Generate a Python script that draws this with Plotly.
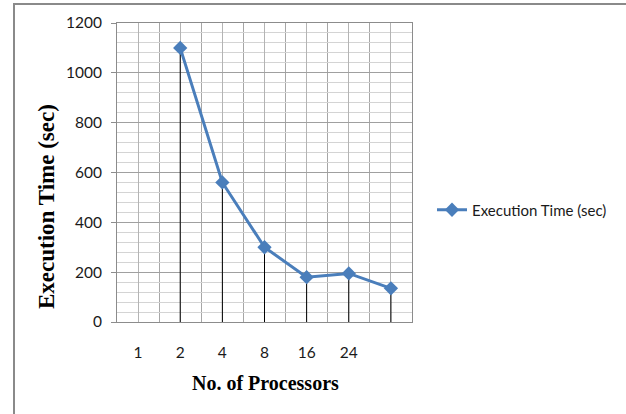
import plotly.graph_objects as go

# Processor counts (category labels) and measured execution times
proc_labels = ["1", "2", "4", "8", "16", "24", ""]
exec_time = [None, 1100, 560, 300, 180, 195, 135]
series_name = "Execution Time (sec)"
y_ticks = [0, 200, 400, 600, 800, 1000, 1200]

positions = list(range(1, len(proc_labels) + 1))

W, H = 626, 414
L, R, T, B = 117, 412, 23, 322  # plot area in pixels


def px_x(px):
    return (px - L) / (R - L)


def px_y(py):
    return (B - py) / (B - T)


BLUE = "#4a7ebb"

# Drop lines from each point down to the category axis
drop_x, drop_y = [], []
for x, v in zip(positions, exec_time):
    if v is None:
        continue
    drop_x += [x, x, None]
    drop_y += [0, v, None]

fig = go.Figure()
fig.add_trace(go.Scatter(
    x=drop_x, y=drop_y, mode="lines",
    line=dict(color="black", width=1),
    hoverinfo="skip", showlegend=False,
))
fig.add_trace(go.Scatter(
    x=positions, y=exec_time, mode="lines+markers",
    name=series_name,
    line=dict(color=BLUE, width=3),
    marker=dict(symbol="diamond", size=11, color=BLUE),
    connectgaps=False,
))

tick_font = dict(family="Lato", size=15.5, color="#1a1a1a")
ytitle_font = dict(family="Liberation Serif", size=23, color="black", weight="bold")
xtitle_font = dict(family="Liberation Serif", size=20, color="black", weight="bold")

fig.update_layout(
    width=W, height=H,
    margin=dict(l=L, r=W - R, t=T, b=H - B, pad=0),
    paper_bgcolor="white", plot_bgcolor="white",
    showlegend=True,
    legend=dict(
        x=px_x(432), y=px_y(210), xanchor="left", yanchor="middle",
        font=dict(family="Lato", size=15, color="#1a1a1a"),
        bgcolor="rgba(0,0,0,0)",
    ),
    xaxis=dict(
        range=[0.5, len(proc_labels) + 0.5],
        tickmode="array", tickvals=positions, ticktext=proc_labels,
        showgrid=True, gridcolor="#b4b4b4", gridwidth=1,
        minor=dict(tick0=0.5, dtick=0.5, showgrid=True,
                   gridcolor="#a6a6a6", gridwidth=1, ticks=""),
        showline=True, linecolor="#8c8c8c", linewidth=1, mirror=True,
        ticks="", zeroline=False,
        tickfont=tick_font, ticklabelstandoff=16,
    ),
    yaxis=dict(
        range=[0, 1200],
        tickmode="array", tickvals=y_ticks,
        showgrid=True, gridcolor="#a0a0a0", gridwidth=1,
        minor=dict(dtick=40, showgrid=True, gridcolor="#d4d4d4",
                   gridwidth=1, ticks=""),
        showline=True, linecolor="#8c8c8c", linewidth=1, mirror=True,
        ticks="outside", ticklen=5, tickcolor="#8c8c8c",
        zeroline=False,
        tickfont=tick_font, ticklabelstandoff=6,
    ),
    annotations=[
        dict(text="Execution Time (sec)", xref="paper", yref="paper",
             x=px_x(46), y=px_y(207), xanchor="center", yanchor="middle",
             textangle=-90, showarrow=False, font=ytitle_font),
        dict(text="No. of Processors", xref="paper", yref="paper",
             x=px_x(265), y=px_y(383), xanchor="center", yanchor="middle",
             showarrow=False, font=xtitle_font),
    ],
    shapes=[
        dict(type="rect", xref="paper", yref="paper",
             x0=px_x(14), x1=px_x(W + 20), y0=px_y(H + 20), y1=px_y(4),
             line=dict(color="#8a8a8a", width=2), layer="below"),
    ],
)

fig.write_html("out.html")
